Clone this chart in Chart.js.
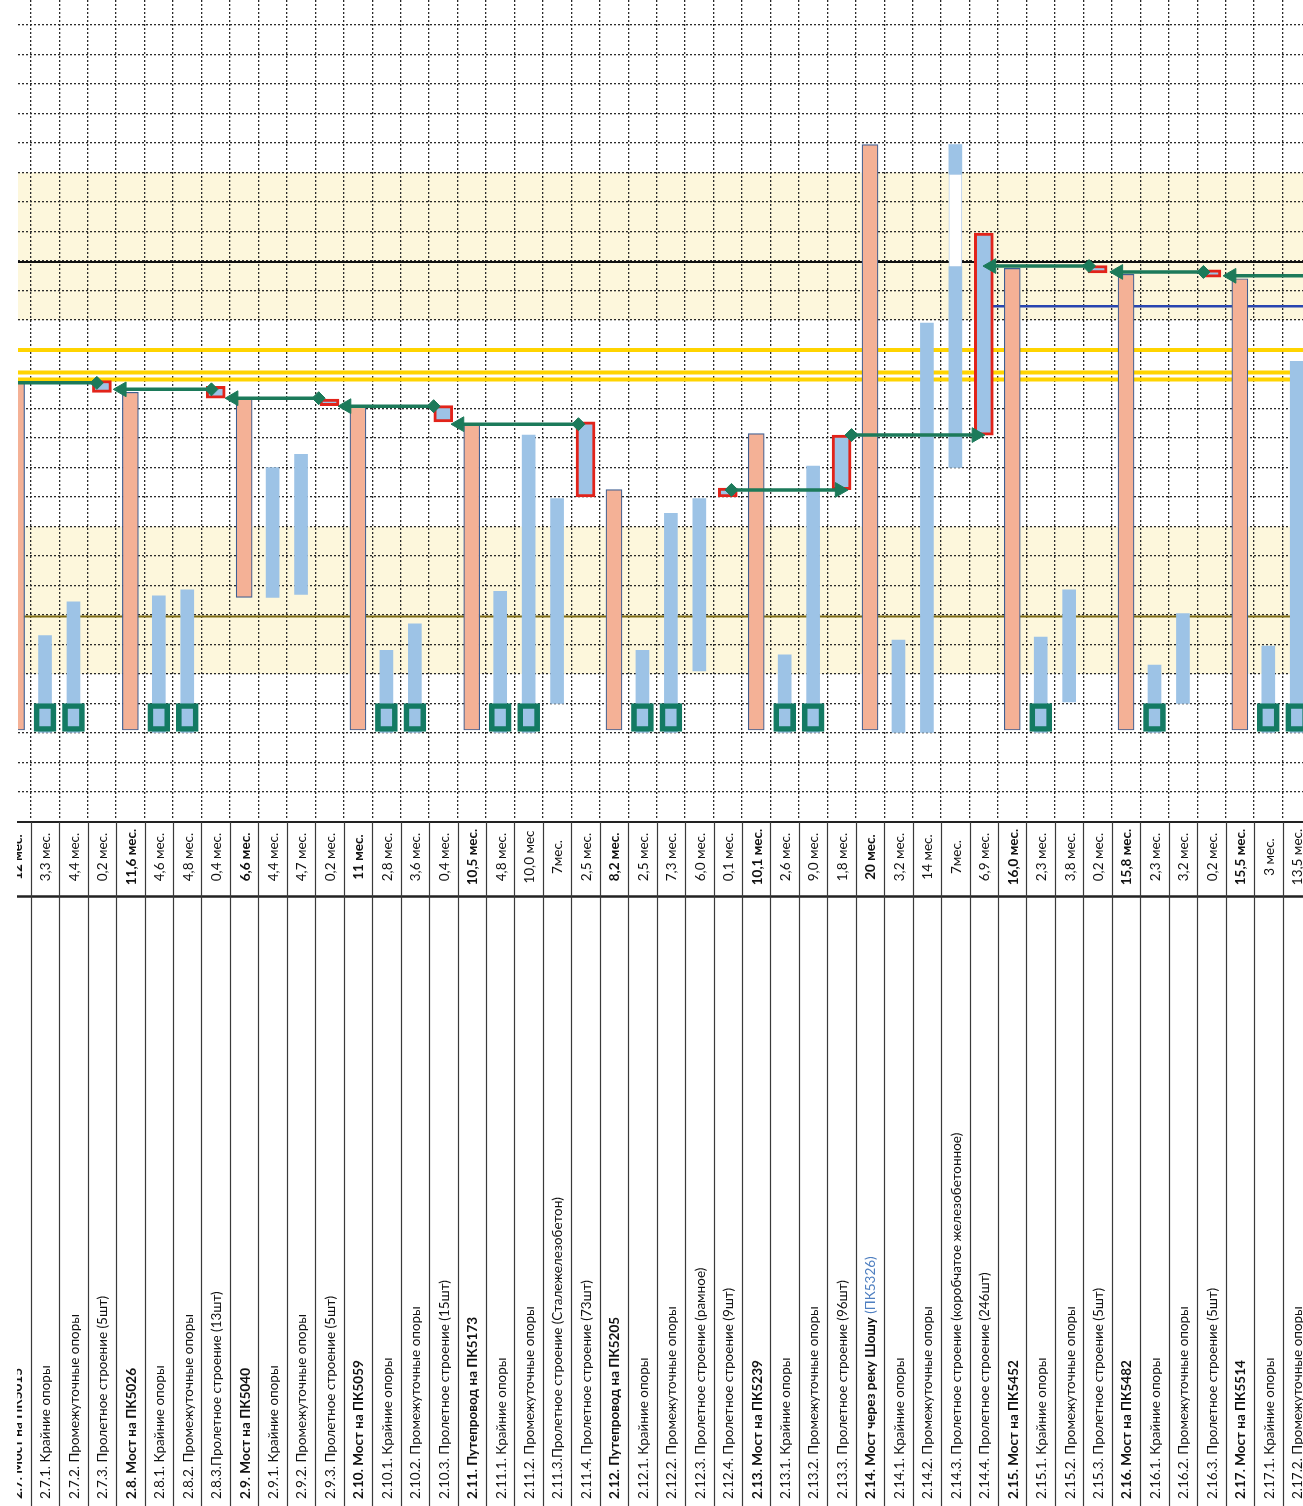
<!DOCTYPE html>
<html>
<head>
<meta charset="utf-8">
<script src="https://cdn.jsdelivr.net/npm/chart.js@4.4.0/dist/chart.umd.min.js"></script>
<style>
  html, body { margin: 0; padding: 0; background: #fff; overflow: hidden; }
  #wrap { width: 1303px; height: 1506px; }
</style>
</head>
<body>
<div id="wrap"><canvas id="gantt" width="1303" height="1506"></canvas></div>
<script>
// task rows (columns of the rotated gantt)
const tasks = [
  '2.7. Мост на ПК5015', '2.7.1. Крайние опоры', '2.7.2. Промежуточные опоры', '2.7.3. Пролетное строение (5шт)',
  '2.8. Мост на ПК5026', '2.8.1. Крайние опоры', '2.8.2. Промежуточные опоры', '2.8.3.Пролетное строение (13шт)',
  '2.9. Мост на ПК5040', '2.9.1. Крайние опоры', '2.9.2. Промежуточные опоры', '2.9.3. Пролетное строение (5шт)',
  '2.10. Мост на ПК5059', '2.10.1. Крайние опоры', '2.10.2. Промежуточные опоры', '2.10.3. Пролетное строение (15шт)',
  '2.11. Путепровод на ПК5173', '2.11.1. Крайние опоры', '2.11.2. Промежуточные опоры', '2.11.3.Пролетное строение (Сталежелезобетон)',
  '2.11.4. Пролетное строение (73шт)', '2.12. Путепровод на ПК5205', '2.12.1. Крайние опоры', '2.12.2. Промежуточные опоры',
  '2.12.3. Пролетное строение (рамное)', '2.12.4. Пролетное строение (9шт)', '2.13. Мост на ПК5239', '2.13.1. Крайние опоры',
  '2.13.2. Промежуточные опоры', '2.13.3. Пролетное строение (96шт)', '2.14. Мост через реку Шошу ', '2.14.1. Крайние опоры',
  '2.14.2. Промежуточные опоры', '2.14.3. Пролетное строение (коробчатое железобетонное)', '2.14.4. Пролетное строение (246шт)',
  '2.15. Мост на ПК5452', '2.15.1. Крайние опоры', '2.15.2. Промежуточные опоры', '2.15.3. Пролетное строение (5шт)',
  '2.16. Мост на ПК5482', '2.16.1. Крайние опоры', '2.16.2. Промежуточные опоры', '2.16.3. Пролетное строение (5шт)',
  '2.17. Мост на ПК5514', '2.17.1. Крайние опоры', '2.17.2. Промежуточные опоры'
];
const durations = [
  '12 мес.', '3,3 мес.', '4,4 мес.', '0,2 мес.', '11,6 мес.', '4,6 мес.', '4,8 мес.', '0,4 мес.',
  '6,6 мес.', '4,4 мес.', '4,7 мес.', '0,2 мес.', '11 мес.', '2,8 мес.', '3,6 мес.', '0,4 мес.',
  '10,5 мес.', '4,8 мес.', '10,0 мес', '7мес.', '2,5 мес.', '8,2 мес.', '2,5 мес.', '7,3 мес.',
  '6,0 мес.', '0,1 мес.', '10,1 мес.', '2,6 мес.', '9,0 мес.', '1,8 мес.', '20 мес.', '3,2 мес.',
  '14 мес.', '7мес.', '6,9 мес.', '16,0 мес.', '2,3 мес.', '3,8 мес.', '0,2 мес.', '15,8 мес.',
  '2,3 мес.', '3,2 мес.', '0,2 мес.', '15,5 мес.', '3 мес.', '13,5 мес.'
];
const boldRows = [0, 4, 8, 12, 16, 21, 26, 30, 35, 39, 43];
const linkNote = { row: 30, text: '(ПК5326)' };

// bars: [column, start month, end month]
const mainBars = [
  [0, 0.1, 11.9], [4, 0.1, 11.55], [8, 4.6, 11.35], [12, 0.1, 11.05], [16, 0.1, 10.45],
  [21, 0.1, 8.25], [26, 0.1, 10.15], [30, 0.1, 19.95], [35, 0.1, 15.75], [39, 0.1, 15.55], [43, 0.1, 15.4]
];
const subBars = [
  [1, 0, 3.3], [2, 0, 4.45], [5, 0, 4.65], [6, 0, 4.85], [9, 4.6, 9.0], [10, 4.7, 9.45],
  [13, 0, 2.8], [14, 0, 3.7], [17, 0, 4.8], [18, 0, 10.1], [19, 1.0, 7.95], [22, 0, 2.8],
  [23, 0, 7.45], [24, 2.1, 7.95], [27, 0, 2.65], [28, 0, 9.05], [31, 0, 3.15], [32, 0, 13.9],
  [33, 9.0, 15.8], [33, 18.95, 19.95], [36, 0, 3.25], [37, 1.05, 4.85], [40, 0, 2.3],
  [41, 1.0, 4.05], [44, 0, 2.95], [45, 0, 12.6]
];
const gapBars = [[33, 15.8, 18.95]];
const spanBoxes = [
  [3, 11.55, 11.95], [7, 11.35, 11.75], [11, 11.1, 11.32], [15, 10.55, 11.1], [20, 8.0, 10.55],
  [25, 8.0, 8.3], [29, 8.25, 10.1], [34, 10.1, 16.95], [38, 15.6, 15.85], [42, 15.45, 15.7]
];
const markerCols = [1, 2, 5, 6, 13, 14, 17, 18, 22, 23, 27, 28, 36, 40, 44, 45];
const markerSpan = [0.05, 1.0];
// links: [arrow column, diamond column, month]
const links = [
  [-0.8, 2.82, 11.87], [3.7, 6.85, 11.65], [7.63, 10.62, 11.35], [11.6, 14.66, 11.08],
  [15.57, 19.75, 10.47], [28.93, 25.13, 8.24], [33.74, 29.35, 10.1],
  [34.27, 37.7, 15.83], [38.73, 41.72, 15.63], [42.71, 45.9, 15.5]
];
// background bands and level lines (months)
const bands = [[2, 7], [14, 19]];
const blackLevel = 15.97;
const yellowLevels = [12.98, 12.22, 11.98];
const oliveLevel = 3.95;
const blueLevel = [34.0, 14.47]; // from column, month

const X_MIN = 0.05, X_MAX = 45.22;
const Y_MIN = -2.95, Y_MAX = 24.85;

const toPts = arr => arr.map(([c, a, b]) => ({ x: c, y: [a, b] }));

const linkData = [], linkStyle = [], linkRot = [], linkRad = [];
links.forEach(([a, d, m]) => {
  linkData.push({ x: a, y: m }, { x: d, y: m }, { x: (a + d) / 2, y: null });
  linkStyle.push('triangle', 'rectRot', 'circle');
  linkRot.push(a < d ? -90 : 90, 0, 0);
  linkRad.push(8.5, 6.5, 0);
});

const backPlugin = {
  id: 'back',
  beforeDraw(chart) {
    const { ctx, chartArea: ca, scales: { x, y } } = chart;
    ctx.save();
    ctx.fillStyle = '#fff';
    ctx.fillRect(0, 0, chart.width, chart.height);
    ctx.fillStyle = '#fdf7dc';
    bands.forEach(([a, b]) => {
      const y1 = y.getPixelForValue(b), y2 = y.getPixelForValue(a);
      ctx.fillRect(ca.left, y1, ca.right - ca.left, y2 - y1);
    });
    ctx.restore();
  },
  beforeDatasetsDraw(chart) {
    const { ctx, chartArea: ca, scales: { x, y } } = chart;
    ctx.save();
    const hline = (v, color, w, from) => {
      const py = y.getPixelForValue(v);
      ctx.strokeStyle = color; ctx.lineWidth = w;
      ctx.beginPath(); ctx.moveTo(from, py); ctx.lineTo(ca.right, py); ctx.stroke();
    };
    hline(blackLevel, '#111', 2, ca.left);
    yellowLevels.forEach(v => hline(v, '#ffd400', 4, ca.left));
    hline(oliveLevel, '#7d6a12', 2, ca.left);
    hline(blueLevel[1], '#2845b0', 2.5, x.getPixelForValue(blueLevel[0]) - 5);
    ctx.restore();
  }
};

const tablePlugin = {
  id: 'table',
  afterDraw(chart) {
    const { ctx, scales: { x } } = chart;
    ctx.save();
    ctx.beginPath(); ctx.rect(17, 815, chart.width, chart.height); ctx.clip();
    ctx.strokeStyle = '#222';
    ctx.lineWidth = 2;
    ctx.beginPath(); ctx.moveTo(17, 822); ctx.lineTo(chart.width, 822); ctx.stroke();
    ctx.lineWidth = 2.5;
    ctx.beginPath(); ctx.moveTo(17, 896.5); ctx.lineTo(chart.width, 896.5); ctx.stroke();
    ctx.lineWidth = 1.2;
    ctx.strokeStyle = '#3a3a3a';
    for (let i = 0; i <= tasks.length; i++) {
      const px = Math.round(x.getPixelForValue(i - 0.5)) + 0.5;
      ctx.beginPath(); ctx.moveTo(px, 822); ctx.lineTo(px, chart.height); ctx.stroke();
    }
    tasks.forEach((name, i) => {
      const cx = x.getPixelForValue(i);
      const bold = boldRows.includes(i);
      ctx.fillStyle = '#111';
      ctx.save();
      ctx.translate(cx + 1, 857);
      ctx.rotate(-Math.PI / 2);
      ctx.textAlign = 'center'; ctx.textBaseline = 'middle';
      ctx.font = (bold ? 'bold ' : '') + '13.5px Lato, "Liberation Sans", sans-serif';
      ctx.fillText(durations[i], 0, 0);
      ctx.restore();

      ctx.save();
      ctx.translate(cx + 1, 1499);
      ctx.rotate(-Math.PI / 2);
      ctx.textAlign = 'left'; ctx.textBaseline = 'middle';
      ctx.font = (bold ? 'bold ' : '') + '13.5px Lato, "Liberation Sans", sans-serif';
      ctx.fillText(name, 0, 0);
      if (i === linkNote.row) {
        const w = ctx.measureText(name).width;
        ctx.font = '13.5px Lato, "Liberation Sans", sans-serif';
        ctx.fillStyle = '#4f7fc0';
        ctx.fillText(linkNote.text, w, 0);
      }
      ctx.restore();
    });
    ctx.restore();
  }
};

const boundaries = [];
for (let i = 0; i <= tasks.length; i++) {
  const b = i + 0.5;
  if (b > X_MIN && b < X_MAX) boundaries.push(b);
}
const months = [];
for (let m = -2; m <= 24; m++) months.push(m);

const noPad = axis => {
  axis.paddingTop = 0; axis.paddingBottom = 0;
  axis.paddingLeft = 0; axis.paddingRight = 0;
};

new Chart(document.getElementById('gantt'), {
  type: 'bar',
  data: {
    datasets: [
      {
        type: 'line', data: linkData, order: 0,
        borderColor: '#1c7a5a', borderWidth: 3.5,
        pointStyle: linkStyle, pointRotation: linkRot, pointRadius: linkRad,
        pointBackgroundColor: '#1c7a5a', pointBorderColor: '#1c7a5a', pointBorderWidth: 1,
        spanGaps: false, tension: 0
      },
      {
        data: markerCols.map(c => ({ x: c, y: markerSpan })), order: 1,
        backgroundColor: 'rgba(0,0,0,0)', borderColor: '#137a63', borderWidth: 5,
        borderSkipped: false, barThickness: 22, grouped: false
      },
      {
        data: toPts(spanBoxes), order: 2,
        backgroundColor: '#9dc3e6', borderColor: '#e2231a', borderWidth: 3,
        borderSkipped: false, barThickness: 19, grouped: false
      },
      {
        data: toPts(subBars), order: 3,
        backgroundColor: '#9dc3e6', borderWidth: 0, barThickness: 13, grouped: false
      },
      {
        data: toPts(gapBars), order: 3,
        backgroundColor: '#ffffff', borderColor: '#bcd2ea', borderWidth: 1,
        borderSkipped: false, barThickness: 13, grouped: false
      },
      {
        data: toPts(mainBars), order: 4,
        backgroundColor: '#f4b196', borderColor: '#3f5f92', borderWidth: 1.2,
        borderSkipped: false, barThickness: 16, grouped: false
      }
    ]
  },
  options: {
    responsive: false,
    animation: false,
    devicePixelRatio: 1,
    layout: { autoPadding: false, padding: { left: 18, right: 0, top: 0, bottom: 686 } },
    plugins: { legend: { display: false }, tooltip: { enabled: false } },
    scales: {
      x: {
        type: 'linear', min: X_MIN, max: X_MAX, offset: false,
        afterBuildTicks: axis => { axis.ticks = boundaries.map(v => ({ value: v })); },
        afterFit: axis => { axis.height = 0; noPad(axis); },
        ticks: { display: false },
        grid: { color: '#2a2a2a', lineWidth: 1.3, drawTicks: false, offset: false },
        border: { display: false, dash: [2, 2] }
      },
      y: {
        type: 'linear', min: Y_MIN, max: Y_MAX,
        afterBuildTicks: axis => { axis.ticks = months.map(v => ({ value: v })); },
        afterFit: axis => { axis.width = 0; noPad(axis); },
        ticks: { display: false },
        grid: { color: '#2a2a2a', lineWidth: 1.3, drawTicks: false },
        border: { display: false, dash: [2, 2] }
      }
    }
  },
  plugins: [backPlugin, tablePlugin]
});
</script>
</body>
</html>
